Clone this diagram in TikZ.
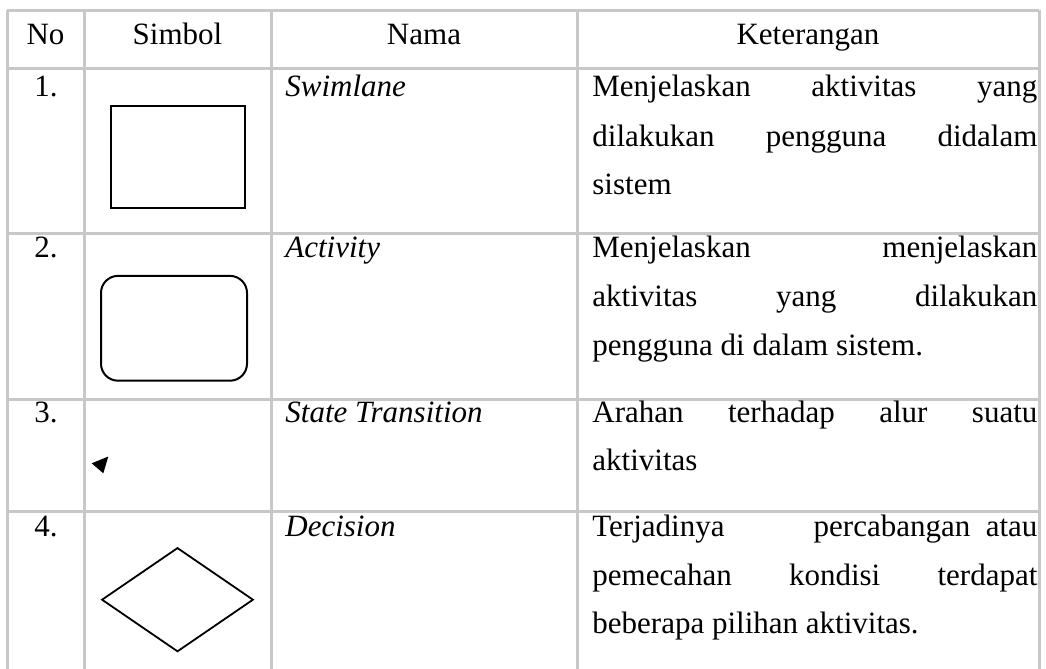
\documentclass[tikz,border=0pt]{standalone}
\usepackage{fontspec}
\setmainfont{Liberation Serif}
\definecolor{GridGray}{RGB}{200,200,200}
\usetikzlibrary{shapes.geometric,positioning}
\newlength{\ketw}
\setlength{\ketw}{222.5pt}

\begin{document}
\begin{tikzpicture}[x=0.5pt, y=-0.5pt,
    every node/.style={inner sep=0pt, font=\fontsize{15.5}{25}\selectfont},
    tablegrid/.style={draw=GridGray, line width=1.5pt},
    head/.style={anchor=base},
    num/.style={anchor=base},
    nama/.style={anchor=base west, font=\fontsize{15.5}{25}\selectfont\itshape},
    ket/.style={anchor=base west},
    symshape/.style={draw=black, line width=1pt}
  ]
  \useasboundingbox[fill=white] (0,0) rectangle (1046,669);

  \foreach \y in {10,68,233,399,511}
    \draw[tablegrid] (7,\y) -- (1039,\y);
  \foreach \x in {7,84,271,577,1039}
    \draw[tablegrid] (\x,10) -- (\x,669);

  \node[head] (hno) at (45.5,45) {No};
  \node[head] (hsimbol) at (177.5,45) {Simbol};
  \node[head] (hnama) at (424,45) {Nama};
  \node[head] (hket) at (808,45) {Keterangan};

  \node[num] (no1) at (46,97) {1.};
  \node[num] (no2) at (46,257) {2.};
  \node[num] (no3) at (46,422) {3.};
  \node[num] (no4) at (46,536) {4.};

  \node[symshape, minimum width=66.9pt, minimum height=51pt] (swimlane) at (177.9,157) {};
  \node[symshape, rounded corners=8.5pt, minimum width=73pt, minimum height=52.4pt] (activity) at (174,328.3) {};
  \fill (91.7,463.3) -- (108.3,456.5) -- (103.3,473.3) -- cycle;
  \node[symshape, diamond, line width=0.9pt, minimum width=75.8pt, minimum height=52pt] (decision) at (177.5,599.7) {};

  \node[nama] (nswim) at (285,97) {Swimlane};
  \node[nama] (nact) at (285,257) {Activity};
  \node[nama] (nstate) at (285,422) {State Transition};
  \node[nama] (ndec) at (285,536) {Decision};

  \node[ket] (k1a) at (592,97) {\makebox[\ketw][s]{Menjelaskan aktivitas yang}};
  \node[ket] (k1b) at (592,146) {\makebox[\ketw][s]{dilakukan pengguna didalam}};
  \node[ket] (k1c) at (592,194) {sistem};

  \node[ket] (k2a) at (592,257) {\makebox[\ketw][s]{Menjelaskan menjelaskan}};
  \node[ket] (k2b) at (592,306) {\makebox[\ketw][s]{aktivitas yang dilakukan}};
  \node[ket] (k2c) at (592,355) {pengguna di dalam sistem.};

  \node[ket] (k3a) at (592,422) {\makebox[\ketw][s]{Arahan terhadap alur suatu}};
  \node[ket] (k3b) at (592,470) {aktivitas};

  \node[ket] (k4a) at (592,536) {\makebox[\ketw]{Terjadinya\hfill percabangan\hspace{0.5em}atau}};
  \node[ket] (k4b) at (592,585) {\makebox[\ketw][s]{pemecahan kondisi terdapat}};
  \node[ket] (k4c) at (592,633) {beberapa pilihan aktivitas.};
\end{tikzpicture}
\end{document}
